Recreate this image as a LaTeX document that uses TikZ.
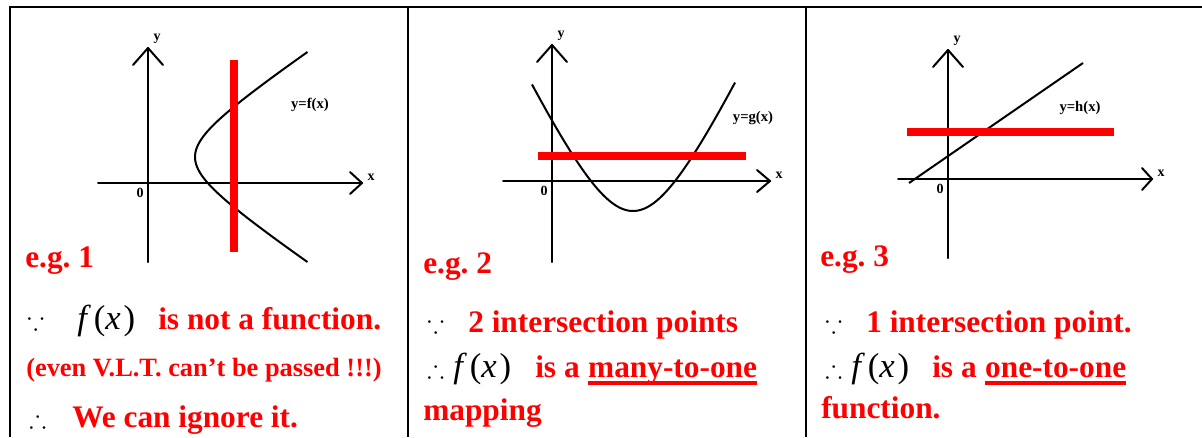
\documentclass[tikz,border=0pt]{standalone}
\usepackage{amssymb}
\usepackage{fontspec}
\setmainfont{Liberation Serif}
\usetikzlibrary{positioning}
\definecolor{hlred}{RGB}{255,0,0}
\newcommand{\fofx}{{\itshape f}\hspace{.2em}({\itshape x}\hspace{.08em})}

\begin{document}
\frenchspacing
\begin{tikzpicture}[
  x=0.75pt, y=-0.75pt,
  frame/.style={line width=1.8pt, black},
  axis/.style={line width=1.5pt, black, line join=round, line cap=round},
  curve/.style={line width=1.5pt, black},
  vlt/.style={line width=6pt, hlred},
  ulined/.style={line width=2.4pt, hlred},
  axlbl/.style={font=\bfseries\fontsize{10.5}{12}\selectfont, inner sep=0pt},
  fnlbl/.style={font=\bfseries\fontsize{11}{13}\selectfont, inner sep=0pt},
  sym/.style={font=\fontsize{19}{24}\selectfont, anchor=base west, inner sep=0pt},
  fxtxt/.style={font=\fontsize{26}{30}\selectfont, anchor=base west, inner sep=0pt},
  redtxt/.style={font=\bfseries\fontsize{23.5}{28}\selectfont, text=hlred, anchor=base west, inner sep=0pt},
  remark/.style={font=\bfseries\fontsize{19.8}{24}\selectfont, text=hlred, anchor=base west, inner sep=0pt}
]
\useasboundingbox (0,0) rectangle (1202,437);

% table frame
\coordinate (c0) at (10,7);
\coordinate (c1) at (408,7);
\coordinate (c2) at (806,7);
\coordinate (cr) at (1202,7);
\draw[frame] (c0 |- 0,437) -- (c0) -- (cr);
\draw[frame] (c1) -- (c1 |- 0,437);
\draw[frame] (c2) -- (c2 |- 0,437);

% axes of the three graphs
\foreach \n/\ox/\oy/\xl/\xr/\yt/\yb/\xb in {1/148/183/98/362/48/262/12,
    2/552/181/503/770/45/262/13, 3/948/179/898/1152/50/258/10} {
  \draw[axis] (\xl,\oy) -- (\xr,\oy);
  \draw[axis] (\ox,\yb) -- (\ox,\yt);
  \draw[axis] (\xr-\xb,\oy-11) -- (\xr,\oy) -- (\xr-\xb,\oy+11);
  \draw[axis] (\ox-15,\yt+17) -- (\ox,\yt) -- (\ox+15,\yt+17);
  \node[axlbl] (ylbl\n) at (\ox+9,\yt-9) {y};
  \node[axlbl] (xlbl\n) at (\xr+9,\oy-6) {x};
  \node[axlbl] (orig\n) at (\ox-8,\oy+10) {0};
}

% e.g. 1
\draw[curve] plot[domain=-105:105, samples=80, variable=\t]
  ({195+52*(sqrt(1+(\t/35)^2)-1)}, {157+\t});
\node[fnlbl] (flbl) at (310,105) {y=f(x)};
\draw[vlt] (234,60) -- (234,252);
\node[redtxt] (eg1) at (25,267) {e.g. 1};
\node[sym] (since1) at (27,329) {$\because$};
\node[fxtxt] (f1) at (77,329) {\fofx};
\node[redtxt] (notf) at (158,329) {is not a function.};
\node[remark] (vlt1) at (26,376) {(even V.L.T. can’t be passed !!!)};
\node[sym] (hence1) at (29,427) {$\therefore$};
\node[redtxt] (ignore) at (72,427) {We can ignore it.};

% e.g. 2
\draw[curve] plot[domain=-101:102, samples=80, variable=\t]
  ({633+\t}, {211-116*(sqrt(1+(\t/55)^2)-1)});
\node[fnlbl] (glbl) at (753,118) {y=g(x)};
\draw[vlt] (538,156) -- (746,156);
\node[redtxt] (eg2) at (423,273) {e.g. 2};
\node[sym] (since2) at (427,332) {$\because$};
\node[redtxt] (pts2) at (468,332) {2 intersection points};
\node[sym] (hence2) at (427,377) {$\therefore$};
\node[fxtxt] (f2) at (453,377) {\fofx};
\node[redtxt] (isa2) at (535,377) {is a};
\node[redtxt, right=6pt of isa2.base east, anchor=base west] (many) {many-to-one};
\draw[ulined] ([yshift=-4.5pt]many.base west) -- ([yshift=-4.5pt]many.base east);
\node[redtxt] (mapping) at (423,420) {mapping};

% e.g. 3
\draw[curve] (909,183) -- (1083,63);
\node[fnlbl] (hlbl) at (1080,108) {y=h(x)};
\draw[vlt] (907,132) -- (1114,132);
\node[redtxt] (eg3) at (820,266) {e.g. 3};
\node[sym] (since3) at (825,332) {$\because$};
\node[redtxt] (pts3) at (866,332) {1 intersection point.};
\node[sym] (hence3) at (825,377) {$\therefore$};
\node[fxtxt] (f3) at (851,377) {\fofx};
\node[redtxt] (isa3) at (932,377) {is a};
\node[redtxt, right=6pt of isa3.base east, anchor=base west] (one) {one-to-one};
\draw[ulined] ([yshift=-4.5pt]one.base west) -- ([yshift=-4.5pt]one.base east);
\node[redtxt] (func) at (821,418) {function.};
\end{tikzpicture}
\end{document}
